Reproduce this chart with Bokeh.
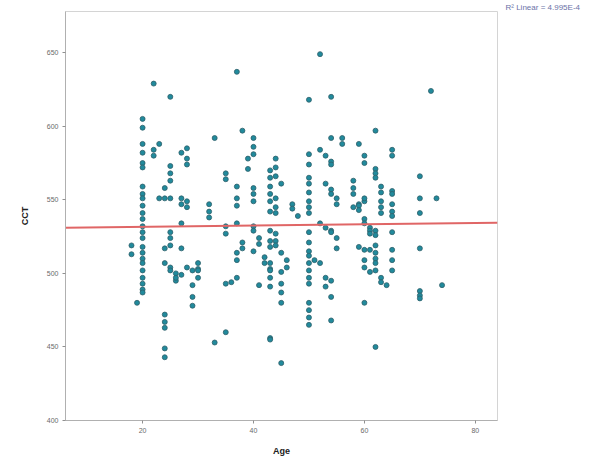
from bokeh.plotting import figure
from bokeh.models import Range1d, FixedTicker, Title, ColumnDataSource
from bokeh.embed import file_html
from bokeh.resources import INLINE
import numpy as np

# ---- data ----
age_groups = {
    18: [513, 519],
    19: [480],
    20: [605, 599, 588, 582, 575, 572, 559, 554, 551, 546, 541, 537, 532, 528, 524, 518, 514, 510, 507, 502, 497, 493, 489, 487],
    22: [629, 584, 580],
    23: [588, 551],
    24: [558, 551, 517, 507, 472, 467, 463, 449, 443],
    25: [620, 563, 568, 573, 551, 528, 524, 519, 504, 502],
    26: [500, 495, 497],
    27: [551, 547, 534, 517, 499, 582],
    28: [574, 578, 545, 549, 504, 585],
    29: [502, 492, 484, 478],
    30: [503, 507, 502, 497],
    32: [547, 542, 538],
    33: [453, 592],
    35: [568, 564, 532, 527, 493, 460],
    36: [494],
    37: [637, 559, 546, 551, 534, 497, 514, 509],
    38: [597, 521, 517],
    39: [578, 571],
    40: [592, 586, 581, 558, 554, 549, 532, 529, 515],
    41: [524, 520, 492],
    42: [511, 507],
    43: [570, 565, 559, 554, 549, 542, 529, 522, 518, 503, 507, 502, 497, 491, 456, 455],
    44: [578, 572, 566, 551, 545, 541, 527, 522, 519],
    45: [561, 514, 501, 493, 487, 480, 439],
    46: [509, 504],
    47: [547, 544],
    48: [539],
    50: [618, 581, 574, 565, 561, 555, 549, 545, 541, 528, 521, 515, 512, 507, 502, 497, 493, 480, 475, 470, 465],
    51: [509],
    52: [649, 584, 534, 507],
    53: [580, 531, 561, 497, 491],
    54: [620, 592, 576, 574, 557, 554, 529, 528, 495, 484, 468],
    55: [551, 547, 524, 517],
    56: [592, 588],
    58: [563, 558, 554, 545],
    59: [588, 547, 546, 543, 518],
    60: [580, 575, 549, 551, 480, 537, 534, 516, 509, 504],
    61: [531, 529, 527, 516, 501],
    62: [597, 571, 568, 565, 529, 526, 519, 514, 510, 507, 502, 450],
    63: [559, 555, 549, 545, 541, 497, 494],
    64: [492],
    65: [584, 580, 556, 554, 547, 542, 539, 528, 516, 509, 502],
    70: [566, 551, 541, 517, 488, 485, 483],
    72: [624],
    73: [551],
    74: [492],
}
age = [a for a, vals in age_groups.items() for _ in vals]
cct = [v for vals in age_groups.values() for v in vals]

fit_intercept = 530.7
fit_slope = 0.045
x_ticks = [20, 40, 60, 80]
y_ticks = [400, 450, 500, 550, 600, 650]
legend_text = "R\u00b2 Linear = 4.995E-4"

p = figure(width=589, height=465, output_backend="svg", toolbar_location=None,
           x_range=Range1d(6.1, 84), y_range=Range1d(400, 678),
           min_border_left=65, min_border_right=92, min_border_top=9, min_border_bottom=45)
p.background_fill_color = "white"
p.border_fill_color = "white"
p.outline_line_color = "#d4d4d4"
p.outline_line_width = 1
p.xgrid.visible = False
p.ygrid.visible = False

for ax in (p.xaxis[0], p.yaxis[0]):
    ax.axis_line_color = "#b0b0b0"
    ax.major_tick_line_color = "#909090"
    ax.major_tick_in = 0
    ax.major_tick_out = 3
    ax.minor_tick_line_color = None
    ax.major_label_text_font = "Liberation Sans"
    ax.major_label_text_font_size = "7px"
    ax.major_label_text_color = "#6a6a6a"
    ax.axis_label_text_font = "Liberation Sans"
    ax.axis_label_text_font_size = "9px"
    ax.axis_label_text_font_style = "bold"
    ax.axis_label_text_color = "#222222"

p.xaxis.ticker = FixedTicker(ticks=x_ticks)
p.yaxis.ticker = FixedTicker(ticks=y_ticks)
p.xaxis.axis_label = "Age"
p.yaxis.axis_label = "CCT"
p.xaxis.major_label_standoff = 4
p.yaxis.major_label_standoff = 4
p.xaxis.axis_label_standoff = 10
p.yaxis.axis_label_standoff = 14

src = ColumnDataSource(dict(age=age, cct=cct))
p.scatter("age", "cct", source=src, size=5, fill_color="#218a9c", line_color="#2e5f69", line_width=0.8)

fx = np.array([p.x_range.start, p.x_range.end])
p.line(fx, fit_intercept + fit_slope * fx, line_color="#e06666", line_width=2)

p.add_layout(Title(text=legend_text, align="left", offset=440, standoff=0,
                   text_font="Liberation Sans", text_font_size="8px", text_font_style="normal",
                   text_color="#6b73a8", text_line_height=1.0), "above")

open("out.html", "w").write(file_html(p, INLINE))
